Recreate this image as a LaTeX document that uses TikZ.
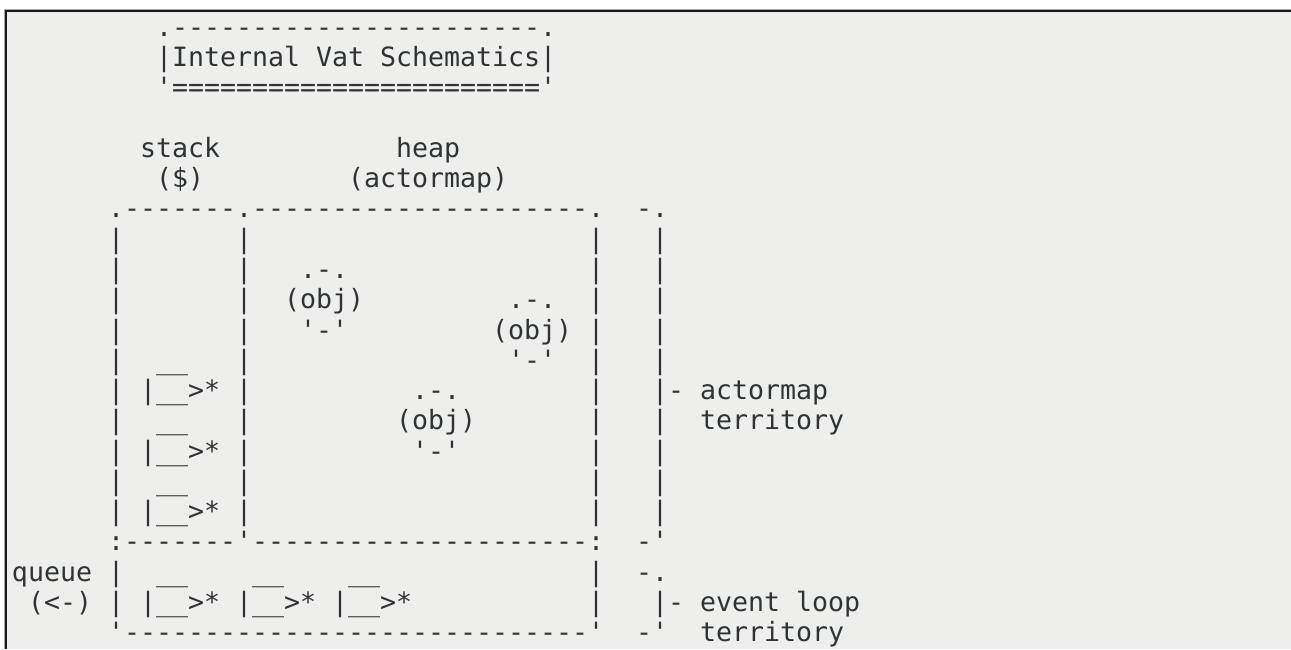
\documentclass[tikz,border=0pt]{standalone}
\usepackage{fontspec}
\setmonofont{DejaVu Sans Mono}
\definecolor{ink}{HTML}{2E3436}
\definecolor{paper}{HTML}{EEEEEC}
\tikzset{
  art/.style={anchor=base west, inner sep=0pt, outer sep=0pt, text=ink,
    font=\ttfamily\fontsize{26.58pt}{30pt}\selectfont},
}
\begin{document}
\begin{tikzpicture}[x=1pt,y=-1pt]
\useasboundingbox (0,0) rectangle (1291,649);
\fill[white] (0,0) rectangle (1291,649);
\fill[paper] (5,10) rectangle (1291,649);
\draw[black!35, line width=1pt] (4.5,649) -- (4.5,9.5) -- (1291,9.5);
\draw[black!90, line width=2pt] (6,649) -- (6,11) -- (1291,11);
\begin{scope}[shift={(12pt,-36.3pt)}, x=16pt, y=-30.27pt]
  % title
  \node[art] (titletop) at (9,0) {.-----------------------.};
  \node[art] (title)    at (9,1) {|Internal Vat Schematics|};
  \node[art] (titlebot) at (9,2) {'======================='};
  % headings
  \node[art] (stack)  at (8,4)  {stack};
  \node[art] (heap)   at (24,4) {heap};
  \node[art] (dollar) at (9,5)  {(\$)};
  \node[art] (amap)   at (21,5) {(actormap)};
  % box top
  \node[art] (boxtop)  at (6,6)  {.-------.---------------------.};
  \node[art] (brtop)   at (39,6) {-.};
  % vertical bars
  \foreach \r in {7,...,16}{
    \node[art] (pa\r) at (6,\r)  {|};
    \node[art] (pb\r) at (14,\r) {|};
    \node[art] (pc\r) at (36,\r) {|};
    \node[art] (pd\r) at (40,\r) {|};
  }
  \foreach \r in {18,19}{
    \node[art] (pa\r) at (6,\r)  {|};
    \node[art] (pc\r) at (36,\r) {|};
  }
  \node[art] (pd19) at (40,19) {|};
  % objects
  \node[art] (oa1) at (18,8)  {.-.};
  \node[art] (oa2) at (17,9)  {(obj)};
  \node[art] (oa3) at (18,10) {'-'};
  \node[art] (ob1) at (31,9)  {.-.};
  \node[art] (ob2) at (30,10) {(obj)};
  \node[art] (ob3) at (31,11) {'-'};
  \node[art] (oc1) at (25,12) {.-.};
  \node[art] (oc2) at (24,13) {(obj)};
  \node[art] (oc3) at (25,14) {'-'};
  % stack frames
  \node[art] (sa1) at (9,11) {\_\_};
  \node[art] (sa2) at (8,12) {|\_\_>*};
  \node[art] (sb1) at (9,13) {\_\_};
  \node[art] (sb2) at (8,14) {|\_\_>*};
  \node[art] (sc1) at (9,15) {\_\_};
  \node[art] (sc2) at (8,16) {|\_\_>*};
  % actormap territory label
  \node[art] (amt1) at (41,12) {- actormap};
  \node[art] (amt2) at (43,13) {territory};
  % middle divider
  \node[art] (boxmid) at (6,17)  {:-------'---------------------:};
  \node[art] (brmid)  at (39,17) {-'};
  % queue
  \node[art] (queue)  at (0,18)  {queue};
  \node[art] (qarrow) at (1,19)  {(<-)};
  \node[art] (qa1) at (9,18)  {\_\_};
  \node[art] (qb1) at (15,18) {\_\_};
  \node[art] (qc1) at (21,18) {\_\_};
  \node[art] (qa2) at (8,19)  {|\_\_>*};
  \node[art] (qb2) at (14,19) {|\_\_>*};
  \node[art] (qc2) at (20,19) {|\_\_>*};
  \node[art] (brq)    at (39,18) {-.};
  \node[art] (elt1)   at (41,19) {- event loop};
  % bottom
  \node[art] (boxbot) at (6,20)  {'-----------------------------'};
  \node[art] (brbot)  at (39,20) {-'};
  \node[art] (elt2)   at (43,20) {territory};
\end{scope}
\end{tikzpicture}
\end{document}
